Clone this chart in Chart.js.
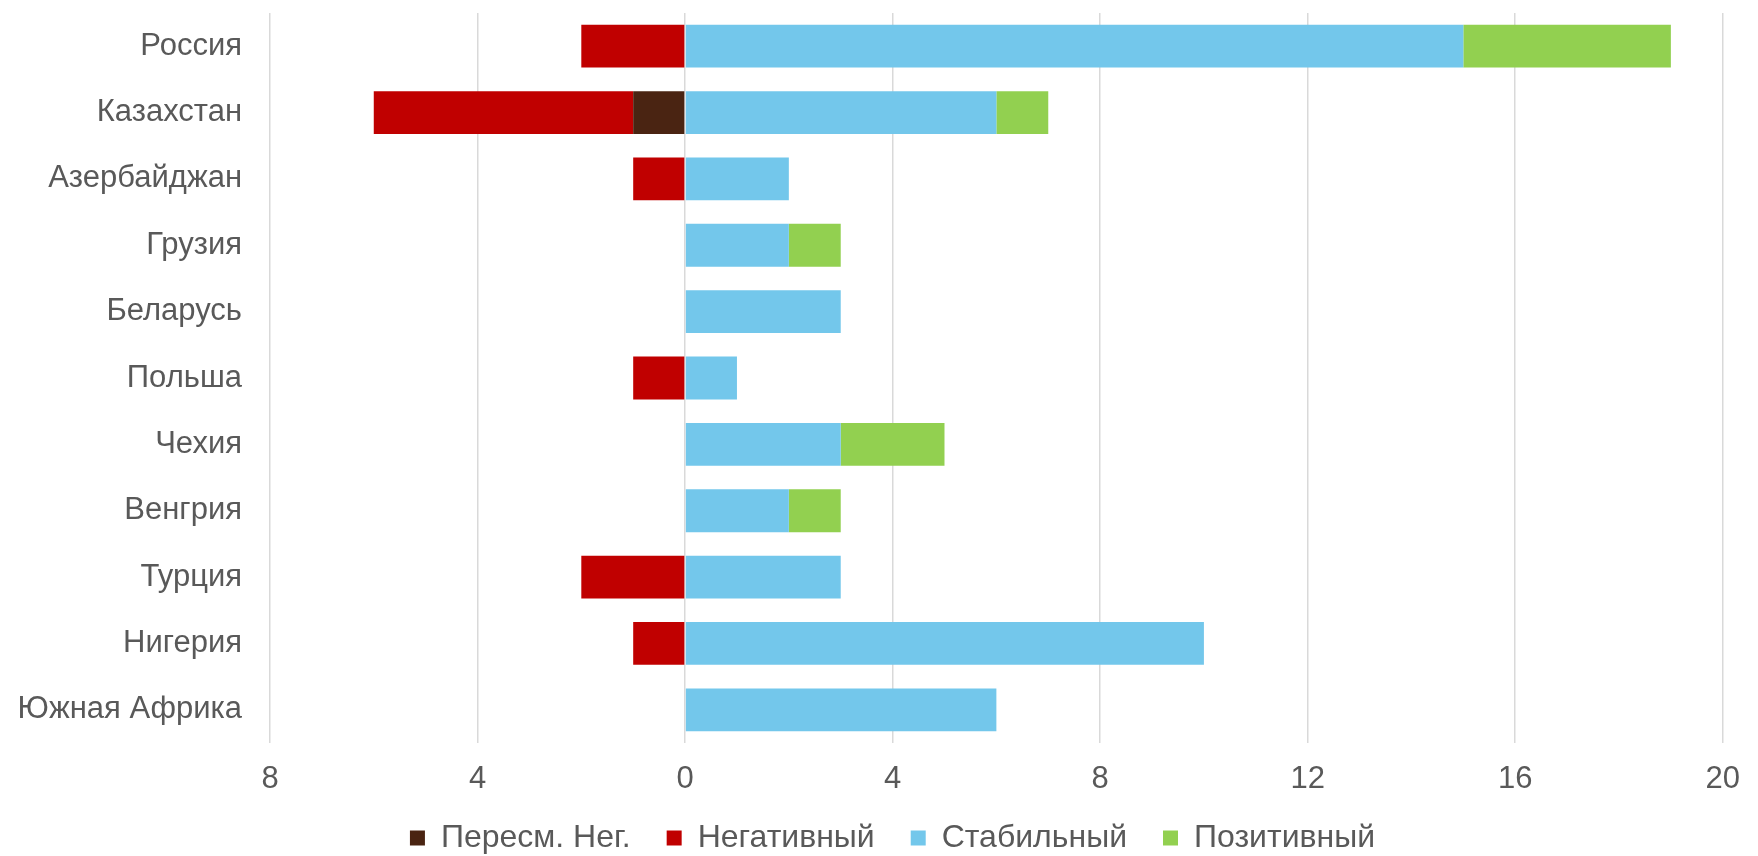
<!DOCTYPE html>
<html>
<head>
<meta charset="utf-8">
<script src="https://cdn.jsdelivr.net/npm/chart.js@4"></script>
<style>
  html, body { margin: 0; padding: 0; background: #fff; overflow: hidden; }
  #frame { width: 1758px; height: 856px; overflow: hidden; }
  #wrap { width: 1758px; height: 877px; }
</style>
</head>
<body>
<div id="frame"><div id="wrap"><canvas id="chartRatings"></canvas></div></div>
<script>
const countries = ['Россия', 'Казахстан', 'Азербайджан', 'Грузия', 'Беларусь', 'Польша', 'Чехия', 'Венгрия', 'Турция', 'Нигерия', 'Южная Африка'];
const reviewNeg = [0, -1, 0, 0, 0, 0, 0, 0, 0, 0, 0];
const negative  = [-2, -5, -1, 0, 0, -1, 0, 0, -2, -1, 0];
const stable    = [15, 6, 2, 2, 3, 1, 3, 2, 3, 10, 6];
const positive  = [4, 1, 0, 1, 0, 0, 2, 1, 0, 0, 0];
const xTicks = [-8, -4, 0, 4, 8, 12, 16, 20];

const textColor = '#595959';
const axisFont = { family: '"Liberation Sans", Arial, sans-serif', size: 31 };
const legendFont = { family: '"Liberation Sans", Arial, sans-serif', size: 32 };

// the original legend sits a little right of centre and close to the tick labels
const legendShift = {
    id: 'legendShift',
    afterLayout(chart) {
        const lg = chart.legend;
        lg.left += 24;
        lg.right += 24;
        lg.top -= 13;
        lg.bottom -= 13;
    }
};

const ctx = document.getElementById('chartRatings').getContext('2d');
const chart = new Chart(ctx, {
    type: 'bar',
    data: {
        labels: countries,
        datasets: [
            { label: 'Пересм. Нег.', data: reviewNeg, backgroundColor: '#4A2412' },
            { label: 'Негативный', data: negative, backgroundColor: '#C00000' },
            { label: 'Стабильный', data: stable, backgroundColor: '#73C7EB' },
            { label: 'Позитивный', data: positive, backgroundColor: '#92D050' }
        ]
    },
    plugins: [legendShift],
    options: {
        indexAxis: 'y',
        responsive: true,
        maintainAspectRatio: false,
        animation: false,
        datasets: {
            bar: { barPercentage: 0.645, categoryPercentage: 1.0, borderWidth: 0 }
        },
        layout: { padding: { top: 13, right: 21, bottom: 0, left: 0 } },
        scales: {
            x: {
                stacked: true,
                min: xTicks[0],
                max: xTicks[xTicks.length - 1],
                afterBuildTicks: (axis) => { axis.ticks = xTicks.map(v => ({ value: v })); },
                afterFit: (axis) => { axis.height = 56; },
                ticks: {
                    color: textColor,
                    font: axisFont,
                    padding: 18,
                    callback: (v) => Math.abs(v)
                },
                grid: { color: '#D9D9D9', lineWidth: 1.5, drawTicks: false },
                border: { display: false }
            },
            y: {
                stacked: true,
                afterFit: (axis) => {
                    axis.width = 270;
                    axis.paddingTop = 0;
                    axis.paddingBottom = 0;
                },
                ticks: { color: textColor, font: axisFont, padding: 28 },
                grid: { display: false, drawTicks: false },
                border: { display: false }
            }
        },
        plugins: {
            legend: {
                position: 'bottom',
                labels: {
                    color: textColor,
                    font: legendFont,
                    boxWidth: 15,
                    boxHeight: 15,
                    padding: 36
                }
            },
            tooltip: { enabled: false }
        }
    }
});
</script>
</body>
</html>
